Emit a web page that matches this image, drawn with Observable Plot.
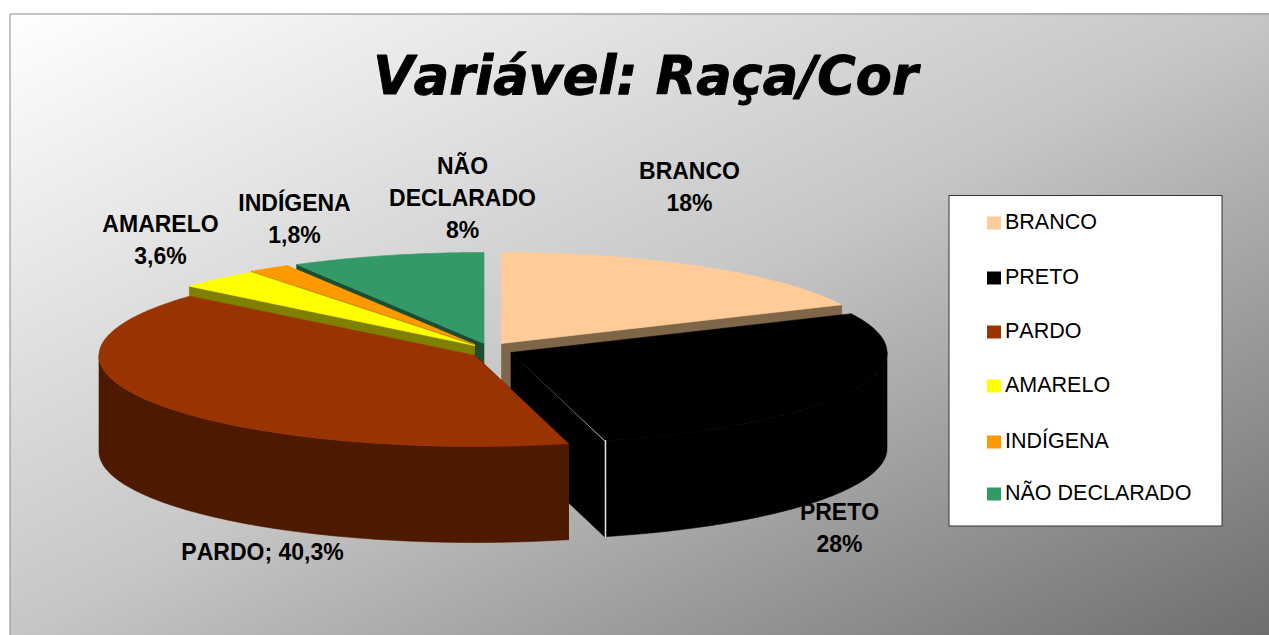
<!DOCTYPE html>
<html><head><meta charset="utf-8">
<style>html,body{margin:0;padding:0;background:#fff;overflow:hidden}svg{display:block}</style>
<script src="https://cdn.jsdelivr.net/npm/d3@7"></script>
<script src="https://cdn.jsdelivr.net/npm/@observablehq/plot@0.6"></script>
</head><body>
<script>
// data
const categories = ["BRANCO","PRETO","PARDO","AMARELO","INDÍGENA","NÃO DECLARADO"];
const values = [18, 28, 40.3, 3.6, 1.8, 8.3];
const valueLabels = ["BRANCO\n18%","PRETO\n28%","PARDO; 40,3%","AMARELO\n3,6%","INDÍGENA\n1,8%","NÃO\nDECLARADO\n8%"];
const topColors = ["#FFCC99","#000000","#993300","#FFFF00","#FF9900","#339966"];
const sideColors = ["#806648","#000000","#4D1A00","#808000","#804D00","#1A4D33"];
// layout
const W = 1269, H = 635, FF = "'Liberation Sans', Arial, sans-serif";
const rx = 376, ry = 91, depth = 96;
const centers = [[501,343],[510.5,352],[474.5,355],[474,345],[474,344],[483.5,343]];
const labelPos = [[689,184],[839,525],[262,549],[160,237],[294,216],[462,195.5]];
const legendY = [223,278,332,386,442,494];
const drawOrder = [0,5,4,3,1,2];

const total = d3.sum(values);
const cum = d3.cumsum(values);
const ang = i => [(i ? cum[i-1] : 0)/total*360, cum[i]/total*360];
const P = (i,t,dy=0) => { const r=t*Math.PI/180, [cx,cy]=centers[i];
  return {x:cx+rx*Math.sin(r), y:cy-ry*Math.cos(r)+dy}; };
const apex = (i,dy=0) => ({x:centers[i][0], y:centers[i][1]+dy});
const arc = (i,a,b,dy=0) => { const n=Math.max(2,Math.ceil(Math.abs(b-a))); 
  return d3.range(n+1).map(k=>P(i,a+(b-a)*k/n,dy)); };

const poly = (pts,fill) => Plot.line([...pts,pts[0]],{x:"x",y:"y",fill,stroke:fill,strokeWidth:0.6,curve:"linear"});

const pieMarks = drawOrder.flatMap(i=>{
  const [a,b]=ang(i), out=[];
  // visible radial wall: end face for the two right-hand slices, start face for the others
  const wall = t => poly([apex(i),P(i,t),P(i,t,depth),apex(i,depth)],sideColors[i]);
  out.push(wall(i<2?b:a));
  // outer wall on front half of the ellipse
  const s=Math.max(a,90), e=Math.min(b,270);
  if(s<e) out.push(poly([...arc(i,s,e),...arc(i,e,s,depth)],sideColors[i]));
  // top face
  out.push(poly([apex(i),...arc(i,a,b)],topColors[i]));
  return out;
});

const defs = () => {
  const d = d3.create("svg:defs");
  const g = d.append("linearGradient").attr("id","bg").attr("x1",0).attr("y1",0).attr("x2",1).attr("y2",1);
  [[0,"#ffffff"],[0.5,"#c6c6c6"],[1,"#6e6e6e"]].forEach(([o,c])=>g.append("stop").attr("offset",o).attr("stop-color",c));
  const e = d.append("linearGradient").attr("id","edge").attr("x1",0).attr("y1",0).attr("x2",1).attr("y2",1);
  [[0,"#000000"],[0.6,"#806648"],[1,"#ffffff"]].forEach(([o,c])=>e.append("stop").attr("offset",o).attr("stop-color",c));
  return d.node();
};

const pEnd = P(1,ang(1)[1]);
const labels = categories.map((c,i)=>({t:valueLabels[i],x:labelPos[i][0],y:labelPos[i][1]}));
const legend = categories.map((c,i)=>({c,y:legendY[i]}));

const chart = Plot.plot({
  width:W,height:H,margin:0,
  style:{background:"transparent",overflow:"hidden",fontKerning:"none"},
  x:{domain:[0,W],range:[0,W],axis:null},
  y:{domain:[0,H],range:[0,H],axis:null},
  color:{domain:categories,range:topColors},
  marks:[
    defs,
    Plot.rect([0],{x1:()=>10,x2:()=>W,y1:()=>13,y2:()=>H,fill:"url(#bg)"}),
    Plot.line([{x:9.5,y:H},{x:9.5,y:13.5},{x:W,y:13.5}],{x:"x",y:"y",stroke:"#8c8c8c",strokeWidth:1}),
    Plot.text(["Variável: Raça/Cor"],{x:()=>645,y:()=>77,text:d=>d,fontFamily:"'DejaVu Sans'",fontWeight:"bold",fontStyle:"italic",fontSize:52.5,fill:"#000",stroke:"#000",strokeWidth:1}),
    ...pieMarks,
    Plot.line([apex(1),pEnd],{x:"x",y:"y",stroke:"url(#edge)",strokeWidth:0.8}),
    Plot.line([{x:pEnd.x+1,y:pEnd.y},{x:pEnd.x+1,y:pEnd.y+depth}],{x:"x",y:"y",stroke:"#e6e6e6",strokeWidth:1.5}),
    Plot.text(labels,{x:"x",y:"y",text:"t",fontFamily:FF,fontWeight:"bold",fontSize:23,lineHeight:1.39,fill:"#000"}),
    Plot.rect([0],{x1:()=>949,x2:()=>1222,y1:()=>195.5,y2:()=>526,fill:"#fff",stroke:"#333",strokeWidth:1}),
    Plot.rect(legend,{x1:()=>987,x2:()=>1001,y1:d=>d.y-6.5,y2:d=>d.y+6.5,fill:"c"}),
    Plot.text(legend,{x:()=>1004.5,y:d=>d.y-1,text:"c",textAnchor:"start",fontFamily:FF,fontSize:21.5,fill:"#000"})
  ]
});
document.body.appendChild(chart);
</script>
</body></html>
